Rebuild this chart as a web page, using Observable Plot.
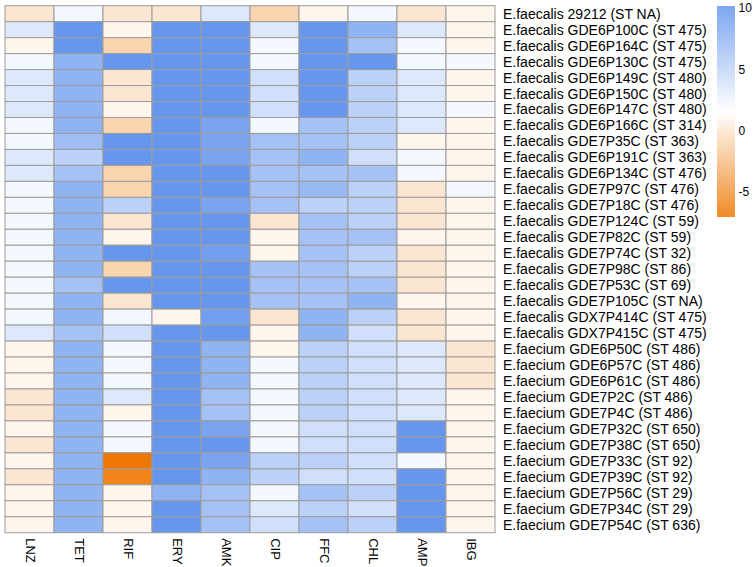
<!DOCTYPE html>
<html>
<head>
<meta charset="utf-8">
<script src="https://cdn.jsdelivr.net/npm/d3@7"></script>
<script src="https://cdn.jsdelivr.net/npm/@observablehq/plot@0.6"></script>
<style>
  body { margin: 0; background: #fff; }
  #wrap { position: relative; width: 753px; height: 567px; font-family: "Liberation Sans", Arial, sans-serif; }
  #legend { position: absolute; left: 717px; top: 0; }
  #main { position: absolute; left: 0; top: 0; }
</style>
</head>
<body>
<div id="wrap"><div id="main"></div><div id="legend"></div></div>
<script>
const antibiotics = ["LNZ", "TET", "RIF", "ERY", "AMK", "CIP", "FFC", "CHL", "AMP", "IBG"];

const strains = [
  "E.faecalis 29212 (ST NA)",
  "E.faecalis GDE6P100C (ST 475)",
  "E.faecalis GDE6P164C (ST 475)",
  "E.faecalis GDE6P130C (ST 475)",
  "E.faecalis GDE6P149C (ST 480)",
  "E.faecalis GDE6P150C (ST 480)",
  "E.faecalis GDE6P147C (ST 480)",
  "E.faecalis GDE6P166C (ST 314)",
  "E.faecalis GDE7P35C (ST 363)",
  "E.faecalis GDE6P191C (ST 363)",
  "E.faecalis GDE6P134C (ST 476)",
  "E.faecalis GDE7P97C (ST 476)",
  "E.faecalis GDE7P18C (ST 476)",
  "E.faecalis GDE7P124C (ST 59)",
  "E.faecalis GDE7P82C (ST 59)",
  "E.faecalis GDE7P74C (ST 32)",
  "E.faecalis GDE7P98C (ST 86)",
  "E.faecalis GDE7P53C (ST 69)",
  "E.faecalis GDE7P105C (ST NA)",
  "E.faecalis GDX7P414C (ST 475)",
  "E.faecalis GDX7P415C (ST 475)",
  "E.faecium GDE6P50C (ST 486)",
  "E.faecium GDE6P57C (ST 486)",
  "E.faecium GDE6P61C (ST 486)",
  "E.faecium GDE7P2C (ST 486)",
  "E.faecium GDE7P4C (ST 486)",
  "E.faecium GDE7P32C (ST 650)",
  "E.faecium GDE7P38C (ST 650)",
  "E.faecium GDE7P33C (ST 92)",
  "E.faecium GDE7P39C (ST 92)",
  "E.faecium GDE7P56C (ST 29)",
  "E.faecium GDE7P34C (ST 29)",
  "E.faecium GDE7P54C (ST 636)"
];

// values per strain, in the order of antibiotics
const values = [
  [0, 2.2, 0, 0, 3.4, -1.1, 0.9, 2.2, 0, 0.9],
  [3.4, 10, 0.9, 10, 10, 3.4, 10, 7.7, 3.4, 0.9],
  [0.9, 10, -1.1, 10, 10, 2.2, 10, 6.5, 2.2, 0.9],
  [2.2, 7.7, 10, 10, 10, 2.2, 10, 10, 2.2, 2.2],
  [3.4, 7.7, 0, 10, 10, 4.1, 10, 5.3, 3.4, 0.9],
  [3.4, 7.7, 0, 10, 10, 4.1, 10, 5.3, 3.4, 0.9],
  [3.4, 7.7, 0.9, 10, 10, 4.1, 10, 5.3, 3.4, 2.2],
  [2.2, 7.7, -1.1, 10, 8.9, 2.2, 6.5, 5.3, 3.4, 0.9],
  [2.2, 6.8, 10, 10, 8.9, 6.5, 6.5, 5.3, 0.9, 0.9],
  [3.4, 5.3, 10, 10, 8.9, 6.5, 7.7, 4.1, 2.2, 0.9],
  [3.4, 6.5, -1.1, 10, 10, 6.5, 6.5, 6.5, 2.2, 0.9],
  [2.2, 7.7, -1.1, 10, 10, 6.5, 7.2, 5.3, 0, 2.2],
  [2.2, 7.7, 5.3, 10, 8.9, 6.5, 5.3, 5.3, 0, 0.9],
  [2.2, 7.7, 0, 10, 10, 0, 6.5, 5.3, 0, 0.9],
  [2.2, 7.7, 0.9, 10, 10, 0.9, 6.5, 6.5, 0.9, 0.9],
  [2.2, 7.7, 10, 10, 9.3, 0.9, 6.5, 5.3, 0, 0.9],
  [2.2, 7.7, -1.1, 10, 10, 6.5, 6.5, 5.3, 0, 0.9],
  [2.2, 6.5, 10, 10, 10, 6.5, 6.5, 6.5, 0, 0.9],
  [2.2, 7.7, 0, 10, 10, 6.5, 6.5, 7.7, 0.9, 0.9],
  [2.2, 7.7, 2.2, 0.9, 9.3, 0, 7.7, 5.3, 0, 0.9],
  [3.4, 6.5, 4.1, 10, 10, 0.9, 7.7, 4.1, 0, 0.9],
  [0.9, 7.7, 2.2, 10, 7.7, 0.9, 5.3, 4.1, 3.4, 0],
  [0.9, 7.7, 2.2, 10, 7.7, 2.2, 5.3, 4.1, 3.4, 0],
  [0.9, 7.7, 2.2, 10, 7.7, 2.2, 5.3, 4.1, 3.4, 0],
  [0, 7.7, 3.4, 10, 6.5, 2.2, 5.3, 4.1, 3.4, 0.9],
  [0, 7.7, 0.9, 10, 6.5, 2.2, 5.3, 4.1, 3.4, 0.9],
  [0.9, 7.7, 2.2, 10, 8.9, 2.2, 4.1, 4.1, 10, 0.9],
  [0, 7.7, 2.2, 10, 10, 2.2, 4.1, 4.1, 10, 0.9],
  [0.9, 7.7, -7, 10, 8.9, 5.3, 5.3, 4.1, 2.2, 0.9],
  [0, 7.7, -6.2, 10, 7.7, 5.3, 4.1, 4.1, 10, 0.9],
  [0.9, 7.7, 0.9, 7.7, 6.5, 2.2, 6.5, 5.3, 10, 0.9],
  [0.9, 7.7, 0.9, 10, 6.5, 3.4, 5.3, 4.1, 10, 0.9],
  [0.9, 7.7, 0.9, 10, 6.5, 4.1, 6.5, 5.3, 10, 0.9]
];

const legendTicks = [10, 5, 0, -5];
const colorDomain = [-7.05, 1.55, 10.15];
const colorRange = ["#EE7600", "#FFFFFF", "#6495ED"];

const table = [];
strains.forEach((s, i) => antibiotics.forEach((a, j) => table.push({strain: s, drug: a, value: values[i][j]})));

const colorScale = {type: "linear", domain: colorDomain, range: colorRange, interpolate: "rgb"};

const main = Plot.plot({
  width: 753,
  height: 567,
  marginLeft: 1,
  marginRight: 255,
  marginTop: 5.7,
  marginBottom: 34.3,
  style: {fontFamily: "'Liberation Sans', Arial, sans-serif", fontSize: "14px", color: "#000", background: "white"},
  x: {domain: antibiotics, padding: 0, label: null},
  y: {domain: strains, padding: 0, label: null},
  color: colorScale,
  marks: [
    Plot.cell(table, {x: "drug", y: "strain", fill: "value", stroke: "#9c9c9c", strokeWidth: 1, inset: 0}),
    Plot.axisX({anchor: "bottom", tickSize: 0, tickPadding: 5, tickRotate: 90, fontSize: 13, label: null}),
    Plot.axisY({anchor: "right", tickSize: 0, tickPadding: 4.5, fontSize: 14, label: null})
  ]
});
document.getElementById("main").appendChild(main);

const [lo, , hi] = colorDomain;
const steps = d3.range(lo, hi, 0.05).map(v => ({y1: v, y2: Math.min(v + 0.06, hi)}));

const legend = Plot.plot({
  width: 36,
  height: 225,
  marginTop: 6,
  marginBottom: 8,
  marginLeft: 0,
  marginRight: 18,
  style: {fontFamily: "'Liberation Sans', Arial, sans-serif", fontSize: "12px", color: "#000", background: "transparent", overflow: "visible"},
  x: {domain: [0, 1], axis: null},
  y: {domain: [lo, hi], axis: "right", ticks: legendTicks, tickSize: 0, tickPadding: 3, label: null, tickFormat: d => String(d)},
  color: colorScale,
  marks: [
    Plot.rect(steps, {x1: 0, x2: 1, y1: "y1", y2: "y2", fill: "y1"})
  ]
});
document.getElementById("legend").appendChild(legend);
</script>
</body>
</html>
